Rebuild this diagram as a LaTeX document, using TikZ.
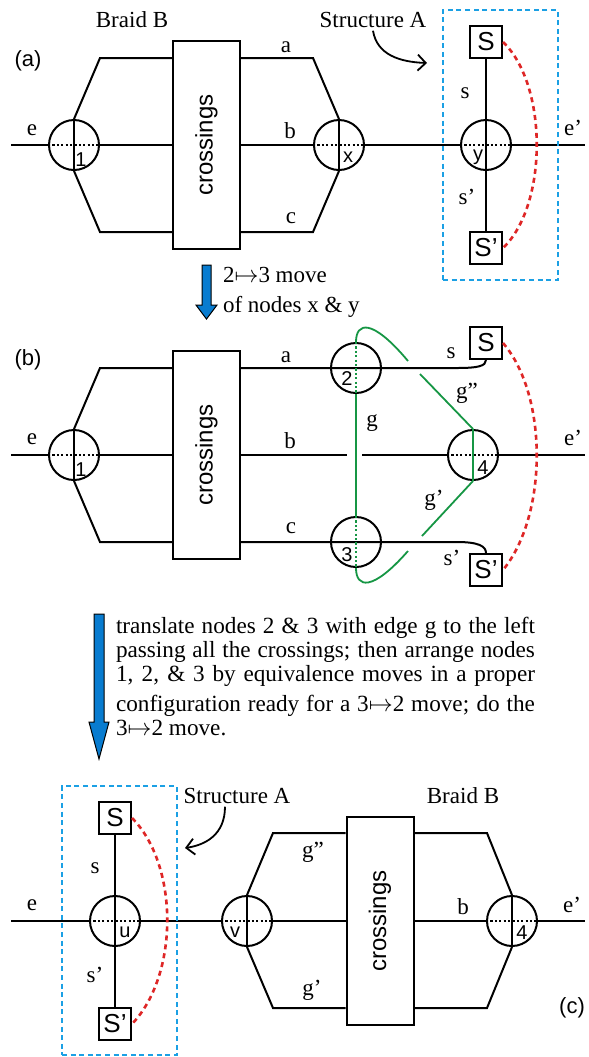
\documentclass[tikz,border=0pt]{standalone}
\usepackage{fontspec}
\setmainfont{Liberation Serif}
\setsansfont{Liberation Sans}
\usetikzlibrary{arrows.meta}
\definecolor{boxblue}{RGB}{27,160,228}
\definecolor{arcred}{RGB}{222,38,38}
\definecolor{edgegreen}{RGB}{22,150,68}
\definecolor{moveblue}{RGB}{8,124,208}
\newcommand{\fitline}[1]{\makebox[209.5pt][s]{#1}}

\begin{document}
\begin{tikzpicture}[x=0.5pt,y=-0.5pt,line width=1pt,
    vtx/.style={draw,circle,minimum size=25pt,inner sep=0pt},
    sq/.style={draw,minimum size=16pt,inner sep=0pt,font=\sffamily\fontsize{13}{13}\selectfont},
    crossbox/.style={draw,minimum width=33.5pt,minimum height=104pt,inner sep=0pt,font=\sffamily\fontsize{12}{12}\selectfont},
    lab/.style={font=\fontsize{11.5}{12}\selectfont,inner sep=1pt},
    num/.style={font=\sffamily\fontsize{10}{10}\selectfont,inner sep=0pt},
    panel/.style={font=\sffamily\fontsize{11}{11}\selectfont,inner sep=0pt},
    dots/.style={line width=1pt,dash pattern=on 1.1pt off 1.1pt},
    gdots/.style={draw=edgegreen,line width=1pt,dash pattern=on 1.1pt off 1.1pt},
    gedge/.style={draw=edgegreen,line width=0.9pt},
    structbox/.style={draw=boxblue,line width=1.3pt,dash pattern=on 2.5pt off 1.8pt,inner sep=0pt},
    arc/.style={draw=arcred,line width=1.3pt,dash pattern=on 2.5pt off 2pt},
    pointer/.style={-{Straight Barb[length=4pt,width=8pt]},line width=0.9pt},
    movearrow/.style={fill=moveblue,draw=black,line width=0.5pt}
  ]
\useasboundingbox (0,0) rectangle (589,1057);

% (a)
\node[panel] (pa) at (28,61) {(a)};
\node[lab] (braida) at (132,20) {Braid B};
\node[lab] (structa) at (373,20) {Structure A};
\node[vtx] (a1) at (74,145) {};
\node[crossbox] (acr) at (206.5,145) {\rotatebox{90}{crossings}};
\node[vtx] (ax) at (339,145) {};
\node[vtx] (ay) at (486,145) {};
\node[sq] (aS) at (486,42) {S};
\node[sq] (aSp) at (486,248) {S'};
\coordinate (ae) at (11,145);
\coordinate (aee) at (585,145);
\coordinate (au1) at (100,58);
\coordinate (ad1) at (100,232);
\coordinate (au2) at (313,58);
\coordinate (ad2) at (313,232);
\coordinate (aAto) at (427,63);
\draw (ae) -- (a1.west) (a1.east) -- (acr.west) (acr.east) -- (ax.west) (ax.east) -- (ay.west) (ay.east) -- (aee);
\draw[dots] (a1.west) -- (a1.east) (ax.west) -- (ax.east) (ay.west) -- (ay.east);
\draw (a1.north) -- (a1.south) (ax.north) -- (ax.south) (aS) -- (aSp);
\draw (a1.north) -- (au1) -- (acr.west |- au1);
\draw (a1.south) -- (ad1) -- (acr.west |- ad1);
\draw (acr.east |- au2) -- (au2) -- (ax.north);
\draw (acr.east |- ad2) -- (ad2) -- (ax.south);
\node[structbox,minimum width=57.5pt,minimum height=135pt] (aA) at (500.5,145) {};
\draw[arc] (aS.east) .. controls (548,85) and (548,205) .. (aSp.east);
\draw[pointer] (structa.south) .. controls (377,55) and (400,62) .. (aAto);
\node[num] (a1n) at (81,160) {1};
\node[num] (axn) at (348,157) {x};
\node[num] (ayn) at (478,157) {y};
\node[lab] (ael) at (32,130) {e};
\node[lab] (aeel) at (573,128) {e'};
\node[lab] (aal) at (286,47) {a};
\node[lab] (abl) at (290,131) {b};
\node[lab] (acl) at (291,218) {c};
\node[lab] (asl) at (465,93) {s};
\node[lab] (aspl) at (467,197) {s'};

% first move
\filldraw[movearrow] (202,265) -- (211,265) -- (211,305) -- (217,305) -- (206.5,319) -- (196,305) -- (202,305) -- cycle;
\node[lab,anchor=west,align=left,font=\fontsize{11.5}{15}\selectfont] (mv1) at (220,292) {2$\mapsto$3 move\\of nodes x \& y};

% (b)
\node[panel] (pb) at (28,360) {(b)};
\node[vtx] (b1) at (74,455) {};
\node[crossbox] (bcr) at (206.5,455) {\rotatebox{90}{crossings}};
\node[vtx] (b2) at (356,368) {};
\node[vtx] (b3) at (356,542) {};
\node[vtx] (b4) at (473,455) {};
\node[sq] (bS) at (486,343) {S};
\node[sq] (bSp) at (486,570) {S'};
\coordinate (be) at (11,455);
\coordinate (bee) at (585,455);
\coordinate (bu1) at (100,368);
\coordinate (bd1) at (100,542);
\coordinate (bgap1) at (347,455);
\coordinate (bgap2) at (362,455);
\coordinate (bs1) at (457,368);
\coordinate (bs2) at (457,542);
\coordinate (bg1) at (408,361);
\coordinate (bg2) at (420,374);
\coordinate (bg3) at (408,551);
\coordinate (bg4) at (422,536);
\draw (be) -- (b1.west) (b1.east) -- (bcr.west) (bcr.east) -- (bgap1) (bgap2) -- (b4.west) (b4.east) -- (bee);
\draw[dots] (b1.west) -- (b1.east) (b4.west) -- (b4.east);
\draw (b1.north) -- (b1.south);
\draw (b1.north) -- (bu1) -- (bcr.west |- bu1);
\draw (b1.south) -- (bd1) -- (bcr.west |- bd1);
\draw (bcr.east |- b2) -- (b2.west) -- (b2.east) -- (bs1) .. controls (478,368) and (486,366) .. (bS.south);
\draw (bcr.east |- b3) -- (b3.west) -- (b3.east) -- (bs2) .. controls (478,542) and (486,546) .. (bSp.north);
\draw[gedge] (b2.south) -- (b3.north) (b4.north) -- (b4.south);
\draw[gdots] (b2.north) -- (b2.south) (b3.north) -- (b3.south);
\draw[gedge] (b2.north) .. controls (356,322) and (372,318) .. (bg1) (bg2) -- (b4.north);
\draw[gedge] (b3.south) .. controls (356,588) and (372,592) .. (bg3) (bg4) -- (b4.south);
\draw[arc] (bS.east) .. controls (548,395) and (548,515) .. (bSp.east);
\node[num] (b1n) at (81,470) {1};
\node[num] (b2n) at (347,379) {2};
\node[num] (b3n) at (347,555) {3};
\node[num] (b4n) at (483,468) {4};
\node[lab] (bel) at (32,439) {e};
\node[lab] (beel) at (573,438) {e'};
\node[lab] (bal) at (286,357) {a};
\node[lab] (bbl) at (290,441) {b};
\node[lab] (bcl) at (291,528) {c};
\node[lab] (bsl) at (451,353) {s};
\node[lab] (bspl) at (452,558) {s'};
\node[lab] (bgl) at (372,423) {g};
\node[lab] (bgppl) at (467,393) {g''};
\node[lab] (bgpl) at (434,500) {g'};

% second move
\filldraw[movearrow] (94,614) -- (104,614) -- (104,722) -- (109,722) -- (99,759) -- (89,722) -- (94,722) -- cycle;
\node[anchor=north west,inner sep=0pt,align=left,font=\fontsize{11.6}{12}\selectfont] (mv2) at (115,616)
  {\fitline{translate nodes 2 \& 3 with edge g to the left}\\
   \fitline{passing all the crossings; then arrange nodes}\\
   \fitline{1, 2, \& 3 by equivalence moves in a proper}\\[3pt]
   \fitline{configuration ready for a 3$\mapsto$2 move; do the}\\
   3$\mapsto$2 move.};

% (c)
\node[panel] (pc) at (572,1008) {(c)};
\node[lab] (braidc) at (463,796) {Braid B};
\node[lab] (structc) at (237,796) {Structure A};
\node[sq] (cS) at (115,818) {S};
\node[sq] (cSp) at (115,1024) {S'};
\node[vtx] (cu) at (115,921) {};
\node[vtx] (cv) at (247,921) {};
\node[crossbox] (ccr) at (380,921) {\rotatebox{90}{crossings}};
\node[vtx] (c4) at (512,921) {};
\coordinate (ce) at (11,921);
\coordinate (cee) at (585,921);
\coordinate (cu1) at (273,833);
\coordinate (cd1) at (273,1008);
\coordinate (cu2) at (487,833);
\coordinate (cd2) at (487,1008);
\coordinate (cAto) at (185,848);
\draw (ce) -- (cu.west) (cu.east) -- (cv.west) (cv.east) -- (ccr.west) (ccr.east) -- (c4.west) (c4.east) -- (cee);
\draw[dots] (cu.west) -- (cu.east) (cv.west) -- (cv.east) (c4.west) -- (c4.east);
\draw (cS) -- (cSp) (cv.north) -- (cv.south) (c4.north) -- (c4.south);
\draw (cv.north) -- (cu1) -- (ccr.west |- cu1);
\draw (cv.south) -- (cd1) -- (ccr.west |- cd1);
\draw (ccr.east |- cu2) -- (cu2) -- (c4.north);
\draw (ccr.east |- cd2) -- (cd2) -- (c4.south);
\node[structbox,minimum width=57.5pt,minimum height=134.5pt] (cA) at (119.5,920.5) {};
\draw[arc] (cS.east) .. controls (179,865) and (179,975) .. (cSp.east);
\draw[pointer] ([xshift=-6pt]structc.south) .. controls (225,835) and (205,845) .. (cAto);
\node[num] (cun) at (125,932) {u};
\node[num] (cvn) at (235,932) {v};
\node[num] (c4n) at (522,933) {4};
\node[lab] (cel) at (32,905) {e};
\node[lab] (ceel) at (572,905) {e'};
\node[lab] (csl) at (95,868) {s};
\node[lab] (cspl) at (95,975) {s'};
\node[lab] (cgppl) at (313,852) {g''};
\node[lab] (cgpl) at (312,990) {g'};
\node[lab] (cbl) at (463,907) {b};
\end{tikzpicture}
\end{document}
